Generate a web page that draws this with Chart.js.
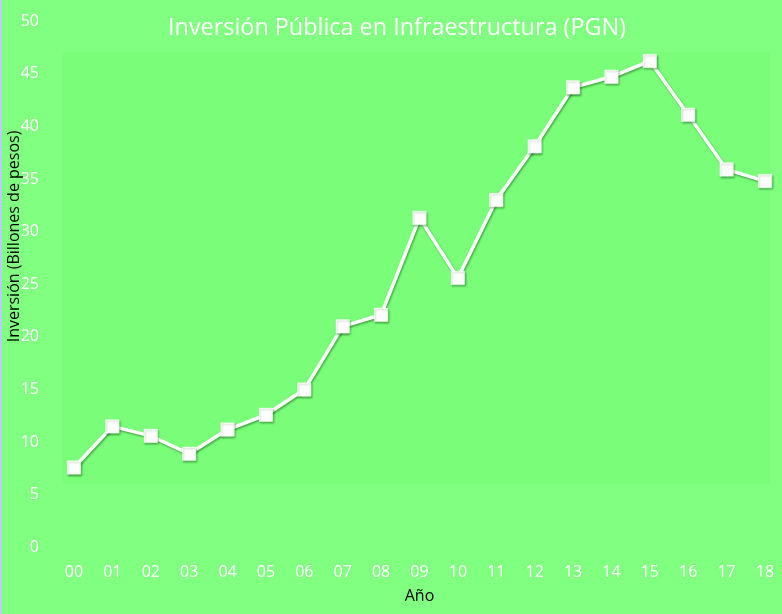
<!DOCTYPE html>
<html>
<head>
<meta charset="utf-8">
<script src="https://cdn.jsdelivr.net/npm/chart.js@4/dist/chart.umd.min.js"></script>
<style>
  html, body { margin: 0; padding: 0; background: #80FF80; overflow: hidden; }
  #wrap { width: 782px; height: 614px; position: relative; }
</style>
</head>
<body>
<div id="wrap"><canvas id="c"></canvas></div>
<script>
// ---- data ----
const years = ["00","01","02","03","04","05","06","07","08","09","10","11","12","13","14","15","16","17","18"];
const inversion = [7.6, 11.5, 10.6, 8.9, 11.2, 12.6, 15.0, 21.0, 22.1, 31.3, 25.6, 33.0, 38.1, 43.7, 44.7, 46.2, 41.1, 35.9, 34.8];
const yTicks = [0, 5, 10, 15, 20, 25, 30, 35, 40, 45, 50];
const chartTitle = "Inversión Pública en Infraestructura (PGN)";
const xTitle = "Año";
const yTitle = "Inversión (Billones de pesos)";

Chart.defaults.font.family = "'Open Sans', 'Noto Sans', sans-serif";

const bgPlugin = {
  id: 'bg',
  beforeDraw(chart) {
    const { ctx, width, height, chartArea } = chart;
    ctx.save();
    ctx.fillStyle = '#80FF80';
    ctx.fillRect(0, 0, width, height);
    // subtle plot panel
    ctx.fillStyle = '#7AFE7A';
    ctx.fillRect(chartArea.left - 11, chartArea.top + 31, (chartArea.right + 5) - (chartArea.left - 11), (chartArea.bottom - 63) - (chartArea.top + 31));
    // left edge strip
    ctx.fillStyle = '#B8CCF8';
    ctx.fillRect(0, 0, 2, height);
    ctx.restore();
  }
};

const shadowPlugin = {
  id: 'shadow',
  beforeDatasetDraw(chart) {
    const ctx = chart.ctx;
    ctx.save();
    ctx.shadowColor = 'rgba(0,70,0,0.45)';
    ctx.shadowBlur = 2;
    ctx.shadowOffsetX = 1;
    ctx.shadowOffsetY = 1.5;
  },
  afterDatasetDraw(chart) {
    chart.ctx.restore();
  }
};

const hiddenGrid = (len) => ({
  display: true,
  drawOnChartArea: false,
  drawTicks: true,
  tickLength: len,
  color: 'rgba(0,0,0,0)'
});

new Chart(document.getElementById('c'), {
  type: 'line',
  data: {
    labels: years,
    datasets: [{
      data: inversion,
      borderColor: '#FFFFFF',
      backgroundColor: '#FFFFFF',
      borderWidth: 3.5,
      pointStyle: 'rect',
      pointRadius: 9.5,
      pointBorderWidth: 0.5,
      pointBackgroundColor: '#FFFFFF',
      pointBorderColor: '#FFFFFF',
      tension: 0,
      fill: false,
      clip: false
    }]
  },
  plugins: [bgPlugin, shadowPlugin],
  options: {
    responsive: true,
    maintainAspectRatio: false,
    animation: false,
    layout: { padding: { left: 12, right: 0, top: 0, bottom: 0 } },
    plugins: {
      legend: { display: false },
      tooltip: { enabled: false },
      title: {
        display: true,
        text: chartTitle,
        color: '#FFFFFF',
        font: { size: 23.4, weight: 'normal' },
        padding: { top: 14.5, bottom: -21.58 }
      }
    },
    scales: {
      x: {
        type: 'category',
        offset: false,
        grid: hiddenGrid(7.15),
        border: { display: false },
        ticks: { color: '#FFFFFF', font: { size: 16 }, padding: 7.85, maxRotation: 0, autoSkip: false },
        title: { display: true, text: xTitle, color: '#000000', font: { size: 16 }, padding: { top: -2.75, bottom: 8 } }
      },
      y: {
        min: 0,
        max: 50,
        afterBuildTicks(scale) { scale.ticks = yTicks.map(v => ({ value: v })); },
        grid: hiddenGrid(35),
        border: { display: false },
        ticks: { color: '#FFFFFF', font: { size: 16 }, padding: 0 },
        title: {
          display: true,
          text: '                       ' + yTitle,
          color: '#000000',
          font: { size: 16 },
          padding: { top: -7, bottom: -3.5 }
        }
      }
    }
  }
});
</script>
</body>
</html>
